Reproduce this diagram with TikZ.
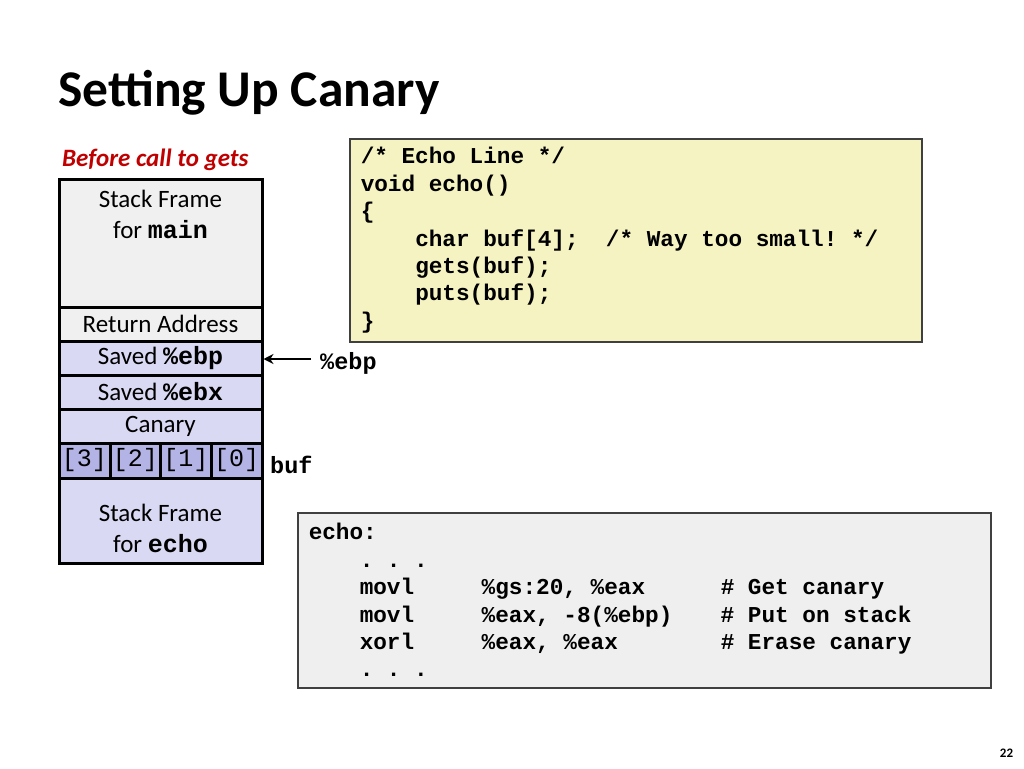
\documentclass[tikz,border=0pt]{standalone}
\usepackage{fontspec}
\setmainfont{Carlito}
\setmonofont{Liberation Mono}
\usetikzlibrary{arrows.meta}
\usetikzlibrary{positioning}

\definecolor{framegray}{HTML}{F0F0F0}
\definecolor{slotblue}{HTML}{D9D9F3}
\definecolor{bufblue}{HTML}{B3B3E6}
\definecolor{codeyellow}{HTML}{F5F3C1}
\definecolor{codegray}{HTML}{EFEFEF}
\definecolor{bordergray}{HTML}{404040}
\definecolor{darkred}{HTML}{C00000}

\newcommand{\cd}[1]{{\ttfamily\bfseries #1}}
\newcommand{\fixspace}{\spaceskip=13.62pt\xspaceskip=13.62pt\relax}
\newcommand{\ind}{\hspace*{54.5pt}}
\newcommand{\asmrow}[3]{\hspace*{51pt}\makebox[122pt][l]{#1}\makebox[239pt][l]{#2}#3}

\begin{document}
\begin{tikzpicture}[x=1pt, y=-1pt, >=Stealth]
    \tikzset{
        stack slot/.style={draw, line width=3pt, minimum width=203pt, inner sep=0pt,
            font=\fontsize{25}{31}\selectfont},
        buf slot/.style={stack slot, fill=bufblue, minimum width=51pt, minimum height=35pt,
            font=\fontsize{25}{27}\ttfamily},
        code box/.style={draw=bordergray, line width=1.5pt, anchor=north west, align=left,
            inner xsep=11pt, inner ysep=0pt, font=\fontsize{22.7}{27.4}\ttfamily\bfseries},
        code label/.style={inner sep=0pt, font=\fontsize{23.5}{27}\ttfamily\bfseries}
    }
    \fill [white] (0,0) rectangle (1024,768);
    \node [anchor=base west, inner sep=0pt, font=\fontsize{51.5}{60}\selectfont\bfseries] (title) at (58,106) {Setting Up Canary};
    \node [anchor=base west, inner sep=0pt, text=darkred, font=\fontsize{25}{30}\selectfont\bfseries\itshape] (before) at (62,166.5) {Before call to gets};

    % stack
    \node [stack slot, fill=framegray, minimum height=128pt] (mainframe) at (160.5,243) {};
    \node [anchor=north, align=center, inner sep=0pt, font=\fontsize{25}{31}\selectfont] (maintext) at (160.5,190) {Stack Frame\\for \cd{main}};
    \node [stack slot, fill=framegray, minimum height=34pt] (retaddr) at (160.5,324) {Return Address};
    \node [stack slot, fill=slotblue, minimum height=34pt] (savedebp) at (160.5,358) {Saved \cd{\%ebp}};
    \node [stack slot, fill=slotblue, minimum height=34pt] (savedebx) at (160.5,392) {Saved \cd{\%ebx}};
    \node [stack slot, fill=slotblue, minimum height=34pt] (canary) at (160.5,426) {Canary};
    \node [stack slot, fill=slotblue, minimum height=85pt] (echoframe) at (160.5,520.5) {};
    \node [align=center, inner sep=0pt, font=\fontsize{25}{31}\selectfont] (echotext) at (160.5,528) {Stack Frame\\for \cd{echo}};
    \foreach \i/\x in {3/84.5, 2/135.5, 1/186, 0/236.5}
        \node [buf slot] (buf\i) at (\x,460.5) {[\i]};

    \node [code label, anchor=base west] (ebplabel) at (320,369) {\%ebp};
    \node [code label, anchor=west] (buflabel) at (270,465) {buf};
    \coordinate (ebptail) at (311,359);
    \draw [line width=2.5pt, -{Stealth[length=10pt, width=10pt]}] (ebptail) -- (savedebp.east |- ebptail);

    % code
    \node [code box, fill=codeyellow, minimum height=203pt, text width=550pt] (srcbox) at (349,138) {\fixspace
        /* Echo Line */\\
        void echo()\\
        \{\\
        \ind char buf[4];\ \ /* Way too small! */\\
        \ind gets(buf);\\
        \ind puts(buf);\\
        \}};
    \node [code box, fill=codegray, minimum height=175pt, text width=671pt] (asmbox) at (297,512) {\fixspace
        echo:\\
        \asmrow{.\ .\ .}{}{}\\
        \asmrow{movl}{\%gs:20, \%eax}{\# Get canary}\\
        \asmrow{movl}{\%eax, -8(\%ebp)}{\# Put on stack}\\
        \asmrow{xorl}{\%eax, \%eax}{\# Erase canary}\\
        \asmrow{.\ .\ .}{}{}};

    \node [inner sep=0pt, font=\fontsize{13}{15}\selectfont\bfseries] (pagenum) at (1006.5,753) {22};
\end{tikzpicture}
\end{document}
